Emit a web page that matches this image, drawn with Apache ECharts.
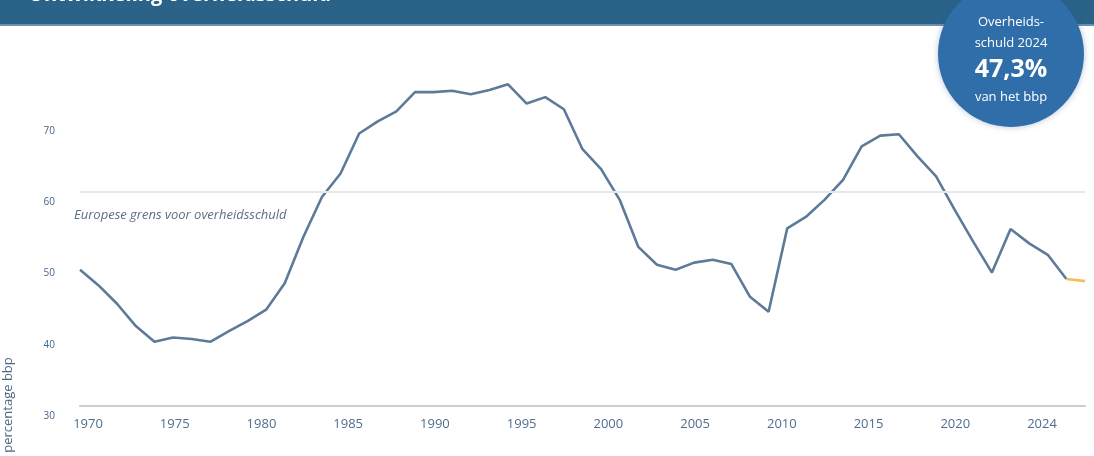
<!DOCTYPE html>
<html><head><meta charset="utf-8">
<script src="https://cdn.jsdelivr.net/npm/echarts@6/dist/echarts.min.js"></script>
<style>html,body{margin:0;padding:0;background:#fff}#c{width:1094px;height:456px}</style>
</head><body><div id="c"></div>
<script>
const years = [1970,1971,1972,1973,1974,1975,1976,1977,1978,1979,1980,1981,1982,1983,1984,1985,1986,1987,1988,1989,1990,1991,1992,1993,1994,1995,1996,1997,1998,1999,2000,2001,2002,2003,2004,2005,2006,2007,2008,2009,2010,2011,2012,2013,2014,2015,2016,2017,2018,2019,2020,2021,2022,2023,2024];
const debt = [49.1,46.9,44.3,41.2,39.0,39.6,39.4,39.0,40.5,41.9,43.5,47.2,53.7,59.3,62.6,68.2,69.9,71.3,74.0,74.0,74.2,73.7,74.3,75.1,72.4,73.3,71.6,66.0,63.2,58.9,52.3,49.8,49.1,50.1,50.5,49.9,45.3,43.2,54.9,56.5,58.9,61.7,66.4,67.9,68.1,65.0,62.2,57.5,53.0,48.7,54.8,52.8,51.2,47.8,47.5];
const xTickLabels = ['1970','1975','1980','1985','1990','1995','2000','2005','2010','2015','2020','2024'];
const yTicks = [30,40,50,60,70];
const euLimit = 60;
const euLimitLabel = 'Europese grens voor overheidsschuld';
const titleText = 'Ontwikkeling overheidsschuld';
const badgeLines = ['Overheids-','schuld 2024','47,3%','van het bbp'];
const yAxisTitle = 'percentage bbp';

const pairs = years.map((y,i)=>[y,debt[i]]);
const bluePart = pairs.slice(0, pairs.length-1);
const orangePart = pairs.slice(pairs.length-2);

const chart = echarts.init(document.getElementById('c'), null, {renderer:'canvas'});
const font = '"Open Sans", "Noto Sans", sans-serif';
chart.setOption({
  backgroundColor:'#ffffff',
  animation:false,
  grid:[
    {left:80, right:9, top:49.33, bottom:50},
    {left:88, right:52, top:49.33, bottom:50}
  ],
  xAxis:[
    {type:'value', gridIndex:0, min:1970, max:2024,
     axisLine:{show:true, lineStyle:{color:'#c9ced4', width:2}},
     axisTick:{show:false}, axisLabel:{show:false}, splitLine:{show:false}},
    {type:'category', gridIndex:1, data:xTickLabels, boundaryGap:false,
     axisLine:{show:false}, axisTick:{show:false}, splitLine:{show:false},
     axisLabel:{color:'#4f6e8e', fontSize:13, fontFamily:font, margin:12, interval:0}}
  ],
  yAxis:[
    {type:'value', gridIndex:0, min:30, max:80, interval:10,
     axisLine:{show:false}, axisTick:{show:false}, splitLine:{show:false},
     axisLabel:{color:'#45668a', fontSize:10, fontFamily:font, margin:25,
       verticalAlign:'top', lineHeight:20,
       formatter:v=> yTicks.includes(v) ? String(v) : ''}},
    {type:'value', gridIndex:1, min:30, max:80, show:false}
  ],
  series:[
    {type:'line', xAxisIndex:0, yAxisIndex:0, data:bluePart, symbol:'none',
     lineStyle:{color:'#5d7b99', width:2.6}, z:3,
     markLine:{silent:true, symbol:'none',
       lineStyle:{color:'#e8e8e8', width:2, type:'solid'},
       label:{show:true, position:'insideStartBottom', formatter:euLimitLabel,
         color:'#5b6f86', fontStyle:'italic', fontSize:13, fontFamily:font, distance:[ -6, 17]},
       data:[{yAxis:euLimit}]}},
    {type:'line', xAxisIndex:0, yAxisIndex:0, data:orangePart, symbol:'none',
     lineStyle:{color:'#f5bd5a', width:2.6}, z:3}
  ],
  graphic:[
    {type:'rect', left:0, top:0, shape:{width:1094, height:24}, style:{fill:'#2a6288'}, z:1},
    {type:'rect', left:0, top:24, shape:{width:1094, height:2}, style:{fill:'#6b8fae'}, z:1},
    {type:'text', x:28, y:5, style:{text:titleText, fill:'#ffffff', font:'bold 20px '+font, verticalAlign:'bottom'}, z:2},
    {type:'circle', shape:{cx:1011, cy:54, r:73}, style:{fill:'#2f6ea8', shadowBlur:6, shadowColor:'rgba(40,90,140,0.35)'}, z:5},
    {type:'text', x:1011, y:22, style:{text:badgeLines[0], fill:'#ffffff', font:'13px '+font, align:'center', verticalAlign:'middle'}, z:6},
    {type:'text', x:1011, y:43, style:{text:badgeLines[1], fill:'#ffffff', font:'13px '+font, align:'center', verticalAlign:'middle'}, z:6},
    {type:'text', x:1011, y:70, style:{text:badgeLines[2], fill:'#ffffff', font:'bold 25px '+font, align:'center', verticalAlign:'middle'}, z:6},
    {type:'text', x:1011, y:97, style:{text:badgeLines[3], fill:'#ffffff', font:'13px '+font, align:'center', verticalAlign:'middle'}, z:6},
    {type:'text', x:8, y:405, rotation:Math.PI/2, style:{text:yAxisTitle, fill:'#4a6684', font:'13px '+font, align:'center', verticalAlign:'middle'}, z:6}
  ]
});
</script></body></html>
